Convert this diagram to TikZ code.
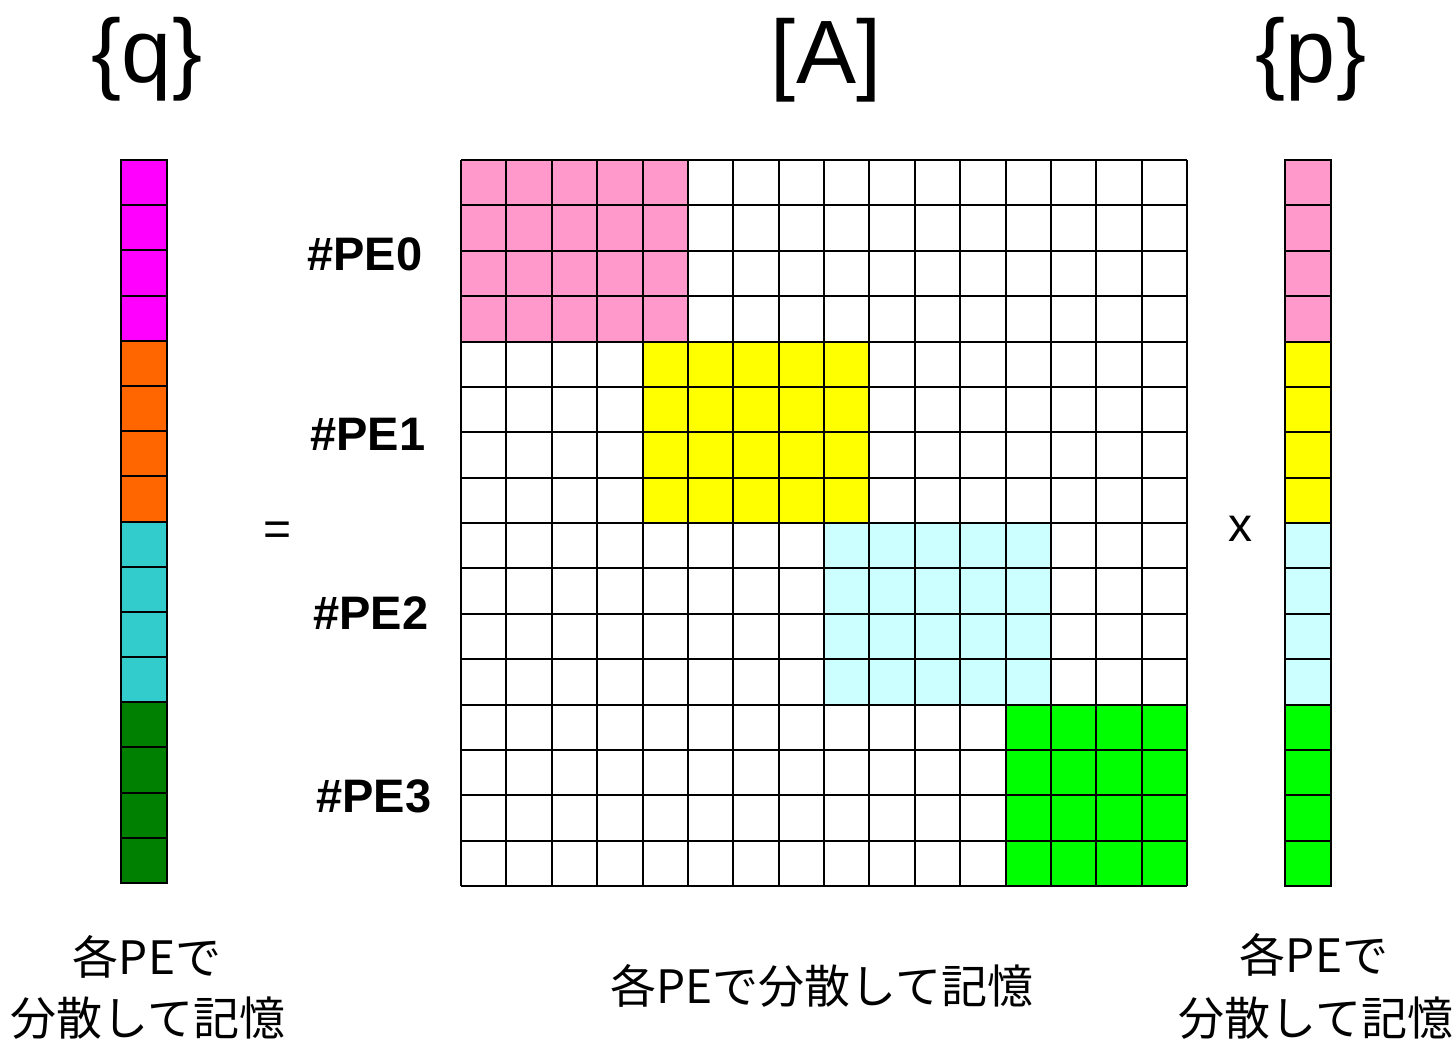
\documentclass[tikz,border=0pt]{standalone}
\usepackage{fontspec}
\setmainfont{Liberation Sans}
\newfontfamily\cjk{Noto Sans CJK JP}
\definecolor{qmag}{HTML}{FF00FF}
\definecolor{qorg}{HTML}{FF6600}
\definecolor{qteal}{HTML}{33CCCC}
\definecolor{qdgreen}{HTML}{008000}
\definecolor{ppink}{HTML}{FF99CC}
\definecolor{pyel}{HTML}{FFFF00}
\definecolor{pcyan}{HTML}{CCFFFF}
\definecolor{pgreen}{HTML}{00FF00}
\tikzset{
  cellline/.style={line width=2pt, draw=black},
  title/.style={font=\fontsize{90}{90}\selectfont, anchor=base, inner sep=0pt},
  pelabel/.style={font=\fontsize{47}{47}\selectfont\bfseries, anchor=base west, inner sep=0pt},
  oplabel/.style={font=\fontsize{48}{48}\selectfont, anchor=base, inner sep=0pt},
  jp/.style={font=\cjk\fontsize{46}{46}\selectfont, anchor=center, inner sep=0pt},
}
\begin{document}
\begin{tikzpicture}[x=1pt,y=-1pt]
\useasboundingbox (0,0) rectangle (1456,1041);
\fill[white] (0,0) rectangle (1456,1041);
\def\c{45.375}
% matrix fills
\fill[ppink] (461,160) rectangle (687.875,341.5);
\fill[pyel] (642.5,341.5) rectangle (869.375,523);
\fill[pcyan] (824,523) rectangle (1050.875,704.5);
\fill[pgreen] (1005.5,704.5) rectangle (1187,886);
% matrix grid
\foreach \i in {0,...,16}{
  \pgfmathsetmacro\xx{461+\i*\c}
  \pgfmathsetmacro\yy{160+\i*\c}
  \draw[cellline] (\xx,160) -- (\xx,886);
  \draw[cellline] (461,\yy) -- (1187,\yy);
}
% vector q
\foreach \i/\col in {0/qmag,1/qmag,2/qmag,3/qmag,4/qorg,5/qorg,6/qorg,7/qorg,8/qteal,9/qteal,10/qteal,11/qteal,12/qdgreen,13/qdgreen,14/qdgreen,15/qdgreen}{
  \pgfmathsetmacro\ya{160+\i*45.1875}
  \pgfmathsetmacro\yb{160+(\i+1)*45.1875}
  \draw[cellline, fill=\col] (121,\ya) rectangle (167,\yb);
}
% vector p
\foreach \i/\col in {0/ppink,1/ppink,2/ppink,3/ppink,4/pyel,5/pyel,6/pyel,7/pyel,8/pcyan,9/pcyan,10/pcyan,11/pcyan,12/pgreen,13/pgreen,14/pgreen,15/pgreen}{
  \pgfmathsetmacro\ya{160+\i*\c}
  \pgfmathsetmacro\yb{160+(\i+1)*\c}
  \draw[cellline, fill=\col] (1285,\ya) rectangle (1331,\yb);
}
% titles
\node[title] (tq) at (147,82) {\{q\}};
\node[title] (tA) at (826,83) {[A]};
\node[title] (tp) at (1311,82) {\{p\}};
% PE labels
\node[pelabel] (pe0) at (307,270) {\#PE0};
\node[pelabel] (pe1) at (310,450) {\#PE1};
\node[pelabel] (pe2) at (313,629) {\#PE2};
\node[pelabel] (pe3) at (316,812) {\#PE3};
% operators
\node[oplabel] (eq) at (278,545) {=};
\node[oplabel] (times) at (1240,541) {x};
% bottom texts
\node[jp] (ql1) at (147,957) {各PEで};
\node[jp] (ql2) at (148,1018) {分散して記憶};
\node[jp] (al) at (822,986) {各PEで分散して記憶};
\node[jp] (pl1) at (1314,955) {各PEで};
\node[jp] (pl2) at (1316,1018) {分散して記憶};
\end{tikzpicture}
\end{document}
